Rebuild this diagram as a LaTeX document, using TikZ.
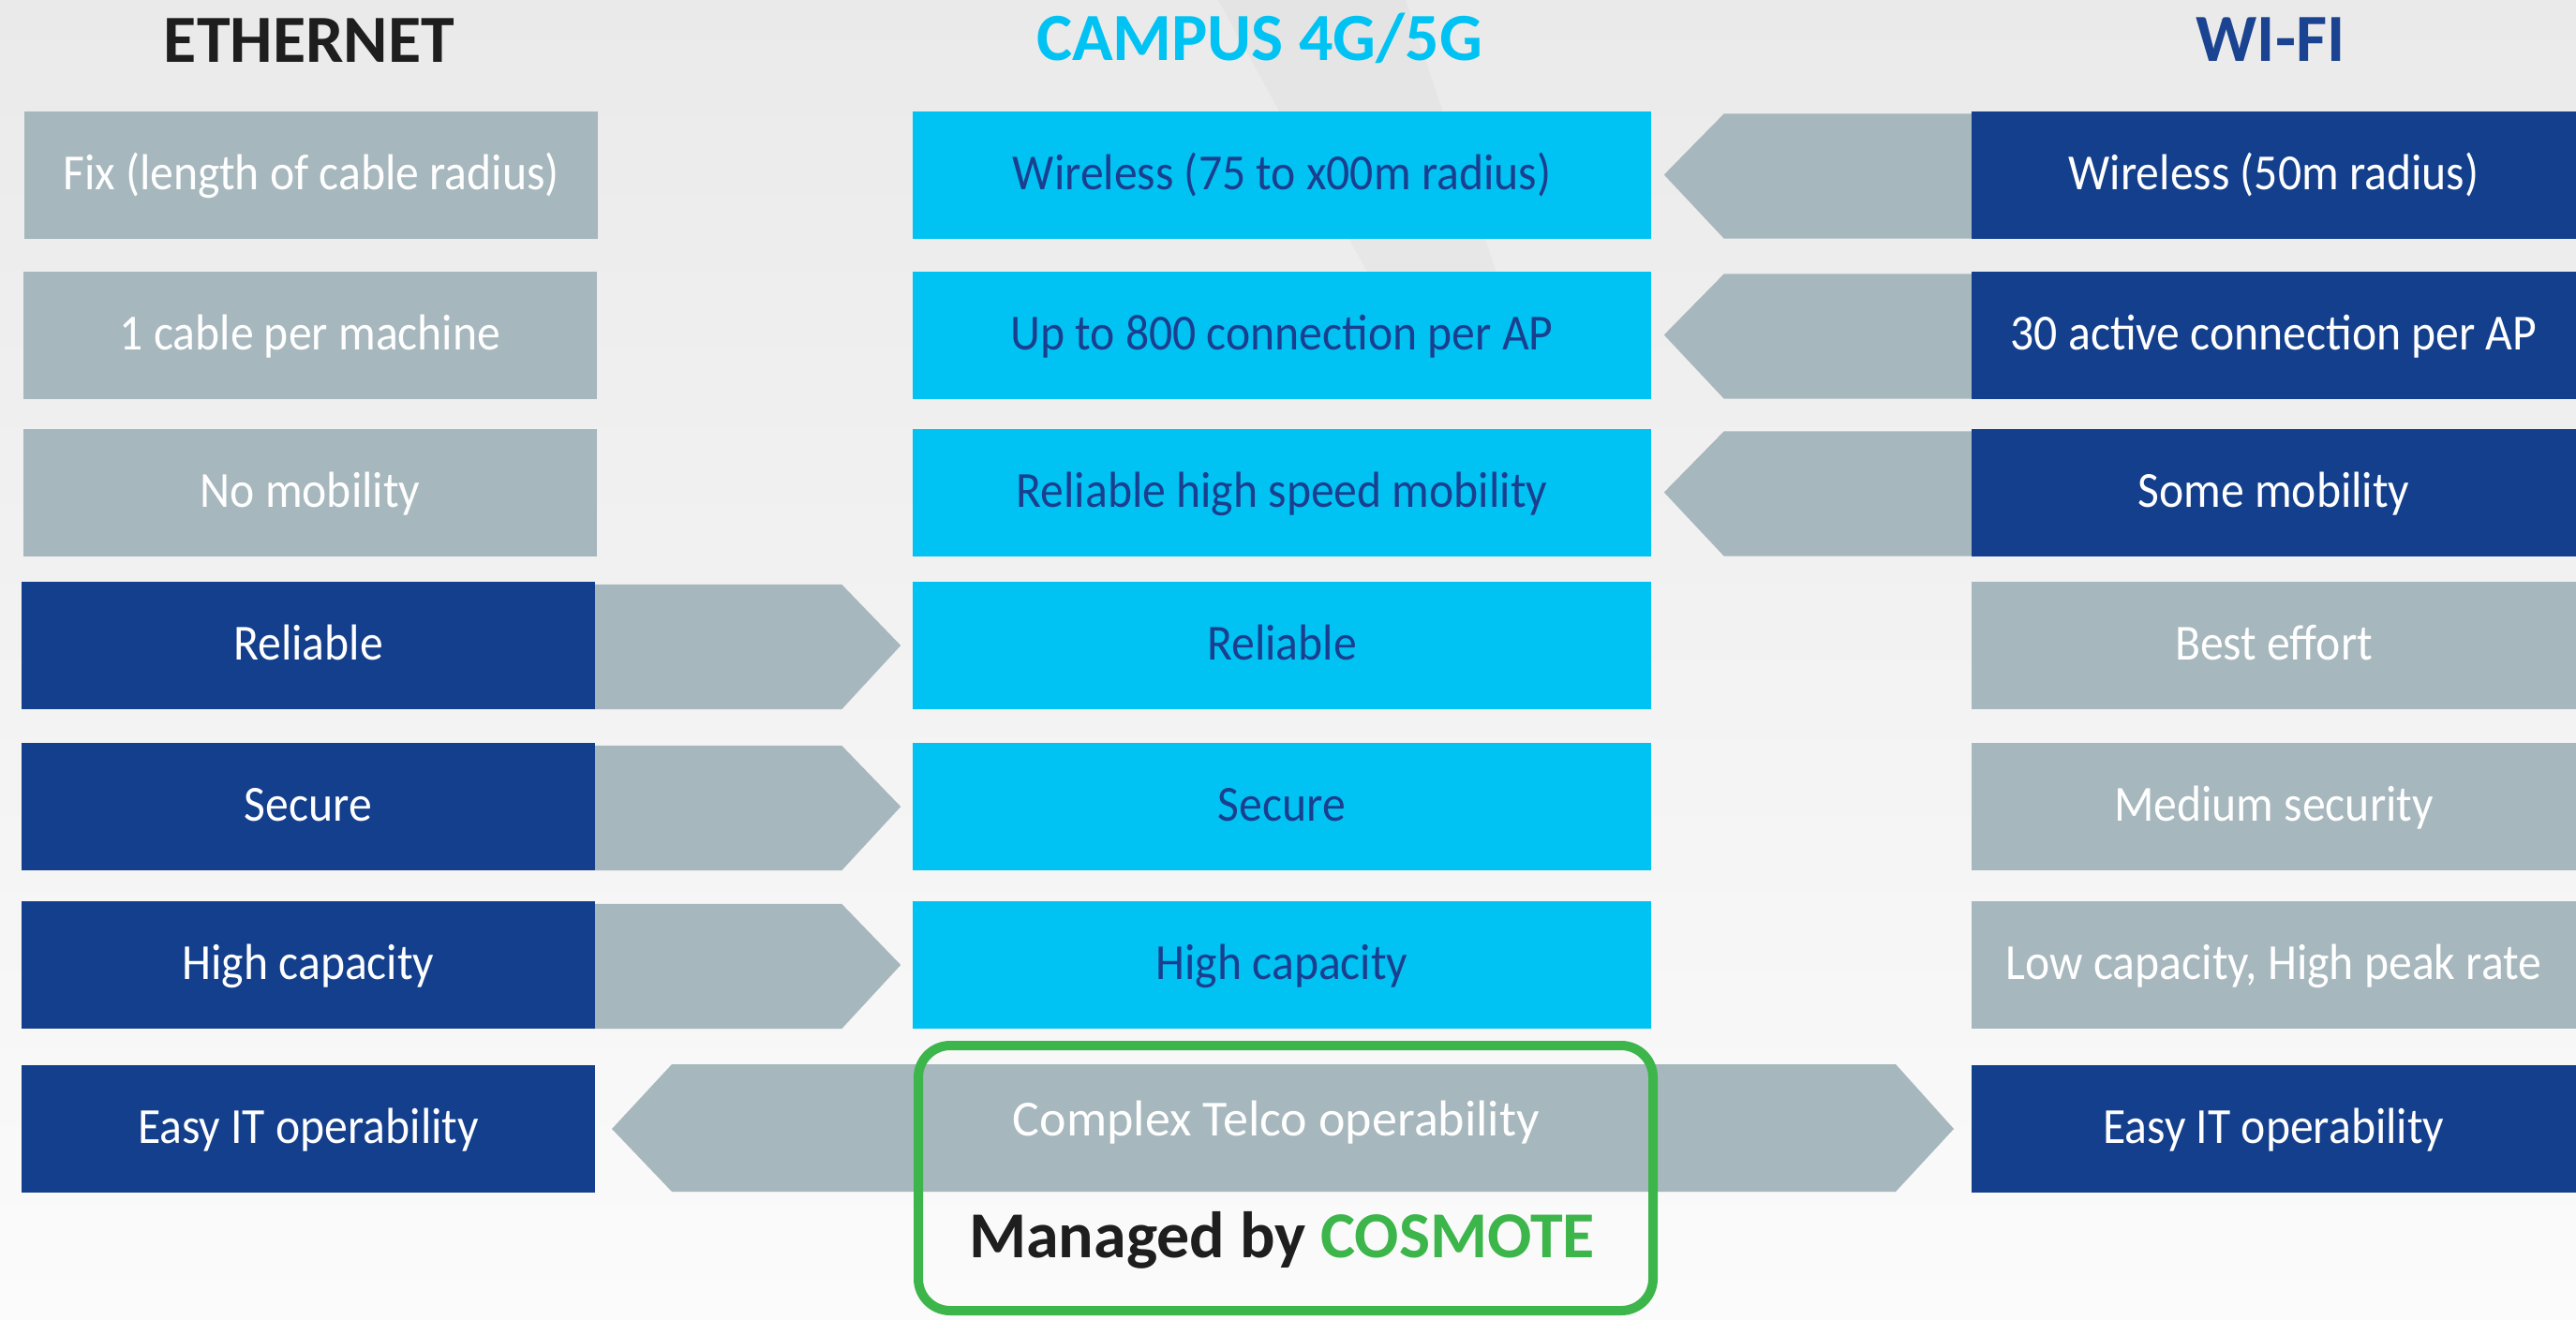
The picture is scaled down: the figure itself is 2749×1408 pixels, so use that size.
\documentclass[tikz,border=0pt]{standalone}
\usepackage{fontspec}
\setmainfont{Carlito}
\newfontfamily\cellfont[FakeStretch=0.92]{Carlito}
\usetikzlibrary{calc}
\definecolor{cgray}{HTML}{A6B7BD}
\definecolor{cdark}{HTML}{133F8D}
\definecolor{ccyan}{HTML}{00C3F4}
\definecolor{ctext}{HTML}{1A3F8E}
\definecolor{cgreen}{HTML}{3CB54A}
\definecolor{ctitlecyan}{HTML}{00C3F4}
\definecolor{ctitleblue}{HTML}{1A4391}
\definecolor{ctitleblack}{HTML}{1E1E1E}
\definecolor{bgtop}{HTML}{EAEAEA}
\definecolor{bgmid}{HTML}{F5F5F5}
\definecolor{bgbot}{HTML}{FBFBFB}
\begin{document}
\begin{tikzpicture}[x=1pt,y=-1pt,
  cell/.style={rectangle, inner sep=0pt, minimum height=136pt, text height=40pt, text depth=9pt,
    font=\cellfont\fontsize{54}{60}\selectfont},
  lcell/.style={cell, minimum width=612pt},
  mcell/.style={cell, minimum width=788pt, fill=ccyan, text=ctext},
  rcell/.style={cell, minimum width=645pt},
  grayfill/.style={fill=cgray, text=white},
  darkfill/.style={fill=cdark, text=white},
  chev/.style={fill=cgray},
  coltitle/.style={anchor=base, font=\bfseries\fontsize{72}{80}\selectfont},
]
% background
\useasboundingbox (0,0) rectangle (2749,1408);
\shade[top color=bgtop, middle color=bgmid, bottom color=bgbot] (0,0) rectangle (2749,1408);
\fill[black, opacity=0.025] (1300,0) -- (1500,0) -- (1640,420) -- (1530,420) -- cycle;

% titles
\node[coltitle, text=ctitleblack] (tEth) at (330,66) {ETHERNET};
\node[coltitle, text=ctitlecyan] (tCamp) at (1344,64) {CAMPUS 4G/5G};
\node[coltitle, text=ctitleblue] (tWifi) at (2423,65) {WI-FI};

% left column
\node[lcell, grayfill] (l1) at (332,186.5) {Fix (length of cable radius)};
\node[lcell, grayfill] (l2) at (331,357.5) {1 cable per machine};
\node[lcell, grayfill] (l3) at (331,525.5) {No mobility};
\node[lcell, darkfill] (l4) at (329,689) {Reliable};
\node[lcell, darkfill] (l5) at (329,861) {Secure};
\node[lcell, darkfill] (l6) at (329,1030) {High capacity};
\node[lcell, darkfill] (l7) at (329,1205) {Easy IT operability};

% middle column
\node[mcell] (m1) at (1368,186.5) {Wireless (75 to x00m radius)};
\node[mcell] (m2) at (1368,357.5) {Up to 800 connection per AP};
\node[mcell] (m3) at (1368,525.5) {Reliable high speed mobility};
\node[mcell] (m4) at (1368,689) {Reliable};
\node[mcell] (m5) at (1368,861) {Secure};
\node[mcell] (m6) at (1368,1030) {High capacity};

% right column
\node[rcell, darkfill] (r1) at (2426.5,186.5) {Wireless (50m radius)};
\node[rcell, darkfill] (r2) at (2426.5,357.5) {30 active connection per AP};
\node[rcell, darkfill] (r3) at (2426.5,525.5) {Some mobility};
\node[rcell, grayfill] (r4) at (2426.5,689) {Best effort};
\node[rcell, grayfill] (r5) at (2426.5,861) {Medium security};
\node[rcell, grayfill] (r6) at (2426.5,1030) {Low capacity, High peak rate};
\node[rcell, darkfill] (r7) at (2426.5,1205) {Easy IT operability};

% chevrons: Wi-Fi rows 1-3 pointing left
\foreach \n in {r1,r2,r3}{
  \fill[chev] ($(\n.north west)+(0,3)$) -- ($(\n.north west)+(-264,3)$) -- ($(\n.west)+(-328,0)$)
    -- ($(\n.south west)+(-264,0)$) -- (\n.south west) -- cycle;
}
% chevrons: Ethernet rows 4-6 pointing right
\foreach \n in {l4,l5,l6}{
  \fill[chev] ($(\n.north east)+(0,3)$) -- ($(\n.north east)+(263,3)$) -- ($(\n.east)+(326,0)$)
    -- ($(\n.south east)+(263,0)$) -- (\n.south east) -- cycle;
}

% row 7 double chevron
\fill[chev] (717,1136) -- (2023,1136) -- (2085,1205) -- (2023,1272) -- (717,1272) -- (653,1205) -- cycle;
\node[anchor=base, text=white, font=\fontsize{54}{60}\selectfont] (telco) at (1362,1212) {Complex Telco operability};

% managed by COSMOTE frame
\node[draw=cgreen, line width=10pt, rounded corners=34pt, minimum width=784pt, minimum height=283pt, inner sep=0pt] (frame) at (1372,1257.5) {};
\node[anchor=base, text=ctitleblack, font=\bfseries\fontsize{70}{80}\selectfont] (managed) at (1368,1342) {Managed by \textcolor{cgreen}{COSMOTE}};
\end{tikzpicture}
\end{document}
